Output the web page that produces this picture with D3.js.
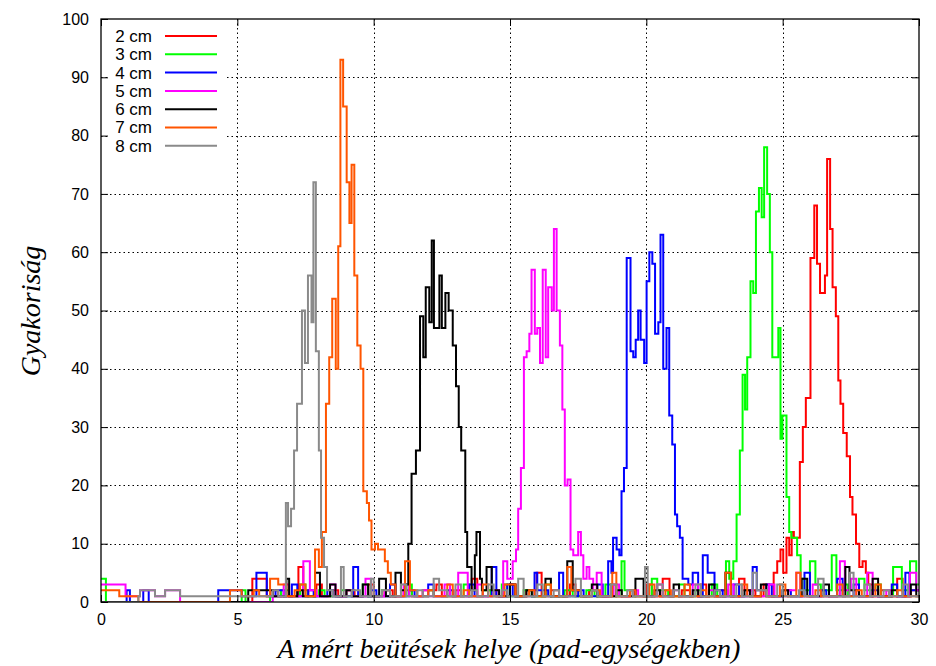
<!DOCTYPE html>
<html>
<head>
<meta charset="utf-8">
<script src="https://cdn.jsdelivr.net/npm/d3@7"></script>
<style>
  body { margin: 0; background: #fff; }
  svg { display: block; }
</style>
</head>
<body>
<div id="fig"></div>
<script>
// series names, colours in drawing order (2 cm drawn first, 8 cm last)
var names = ["2 cm", "3 cm", "4 cm", "5 cm", "6 cm", "7 cm", "8 cm"];
var colors = ["#ff0000", "#00ff00", "#0000ff", "#ff00ff", "#000000", "#ff5500", "#8a8a8a"];

var xTicks = [0, 5, 10, 15, 20, 25, 30];
var yTicks = [0, 10, 20, 30, 40, 50, 60, 70, 80, 90, 100];

// histogram steps: [position, count] — count holds until the next position
var s2cm = [[0,0],[5.55,4],[6.08,1],[6.3,2],[6.5,1],[7.24,6],[7.42,2],[7.6,1],[7.9,3],[8.1,1],[8.5,2],[8.7,1],[9.0,2],[9.3,1],[9.8,3],[10.0,1],[10.4,2],[10.7,1],[11.1,2],[11.4,1],[11.8,2],[12.3,3],[12.5,1],[13.0,2],[13.2,1],[13.6,4],[13.8,1],[14.2,2],[14.5,1],[15.0,3],[15.2,1],[15.6,2],[15.98,5],[16.16,1],[16.5,2],[16.8,1],[17.2,3],[17.4,1],[17.9,2],[18.2,1],[18.7,3],[18.9,1],[19.4,2],[19.6,1],[20.0,3],[20.2,1],[20.6,4],[20.85,1],[21.3,2],[21.6,1],[22.0,3],[22.2,1],[22.7,2],[23.0,1],[23.4,4],[23.6,2],[24.0,1],[24.3,3],[24.5,1],[24.67,5],[24.8,7],[24.92,9],[25.02,5],[25.14,11],[25.24,8],[25.33,12],[25.41,11],[25.63,24],[25.74,30],[25.85,35],[26.02,59],[26.16,68],[26.26,58],[26.37,53],[26.55,56],[26.63,76],[26.74,64],[26.83,54],[26.95,49],[27.04,38],[27.12,34],[27.22,29],[27.35,25],[27.47,18],[27.56,15],[27.69,10],[27.81,6],[27.93,7],[28.05,5],[28.14,3],[28.3,1],[28.6,2],[28.9,1],[29.2,4],[29.4,1],[29.7,2],[30,2]];

var s3cm = [[0,4],[0.18,0],[5.16,2],[5.3,0],[6.2,1],[6.6,2],[6.9,1],[7.3,3],[7.5,1],[8.0,2],[8.2,1],[8.8,2],[9.0,1],[9.6,3],[9.8,1],[10.3,2],[10.6,1],[11.2,3],[11.4,1],[12.0,2],[12.2,1],[13.3,3],[13.5,1],[14.0,2],[14.3,1],[14.7,3],[14.9,1],[15.5,2],[15.8,1],[16.3,3],[16.5,1],[17.0,2],[17.3,1],[17.8,2],[18.1,1],[18.5,3],[18.7,1],[19.09,7],[19.2,2],[19.5,1],[20.2,4],[20.4,2],[20.8,1],[21.2,3],[21.4,1],[21.8,2],[22.0,1],[22.4,3],[22.6,1],[22.92,7],[23.04,4],[23.19,7],[23.31,15],[23.43,26],[23.53,39],[23.62,33],[23.70,42],[23.82,55],[23.92,53],[24.02,67],[24.13,71],[24.23,66],[24.32,78],[24.43,70],[24.53,60],[24.62,42],[24.84,47],[24.92,28],[24.99,32],[25.14,18],[25.24,12],[25.32,11],[25.53,8],[25.66,4],[25.8,2],[26.0,7],[26.2,3],[26.4,2],[26.8,8],[26.97,2],[27.2,3],[27.4,1],[27.8,4],[28.0,2],[28.4,3],[28.6,1],[29.05,6],[29.37,2],[29.67,7],[29.9,3],[30,3]];

var s4cm = [[0,0],[0.94,2],[1.06,0],[1.55,2],[1.75,0],[4.3,2],[5.16,1],[5.7,5],[6.08,1],[6.4,2],[6.7,1],[7.0,3],[7.2,1],[7.6,2],[7.8,1],[8.3,2],[8.5,1],[9.25,6],[9.43,1],[9.9,2],[10.1,1],[10.6,3],[10.8,1],[11.3,2],[11.5,1],[12.0,3],[12.2,1],[12.7,2],[12.9,1],[13.5,3],[13.7,1],[14.33,6],[14.5,1],[14.9,3],[15.1,1],[15.9,5],[16.0,2],[16.4,1],[16.8,5],[16.95,1],[17.5,2],[17.7,1],[18.2,3],[18.4,1],[18.60,7],[18.72,5],[18.78,11],[18.91,9],[19.01,8],[19.09,19],[19.18,23],[19.28,59],[19.42,43],[19.52,42],[19.61,45],[19.70,50],[19.79,45],[19.92,41],[20.01,55],[20.11,60],[20.22,58],[20.32,46],[20.44,48],[20.52,63],[20.62,40],[20.74,47],[20.84,32],[20.95,27],[21.05,15],[21.13,13],[21.23,11],[21.33,4],[21.54,3],[21.7,5],[21.9,1],[22.07,8],[22.25,5],[22.5,2],[22.8,1],[23.2,3],[23.4,1],[23.9,6],[24.05,2],[24.4,3],[24.6,1],[25.0,2],[25.3,1],[25.8,5],[26.0,1],[26.4,2],[26.6,1],[27.0,4],[27.2,1],[27.6,3],[27.8,1],[28.3,2],[28.5,1],[29.0,3],[29.2,1],[29.5,5],[29.65,2],[30,2]];

var s5cm = [[0,3],[0.9,1],[1.43,2],[1.98,1],[2.35,2],[2.9,0],[6.3,1],[6.7,3],[6.9,1],[7.42,7],[7.66,2],[7.9,1],[8.4,3],[8.6,1],[9.0,2],[9.2,1],[9.7,4],[9.9,1],[10.4,2],[10.6,1],[11.1,3],[11.3,1],[11.8,2],[12.0,1],[12.6,3],[12.8,1],[13.1,5],[13.45,1],[13.8,3],[14.0,1],[14.4,2],[14.6,1],[14.75,7],[14.9,4],[15.10,7],[15.22,9],[15.30,16],[15.40,23],[15.51,42],[15.61,43],[15.71,46],[15.79,57],[15.91,46],[16.00,47],[16.10,41],[16.20,57],[16.31,42],[16.40,54],[16.53,50],[16.61,64],[16.71,50],[16.83,44],[16.92,33],[17.01,20],[17.11,21],[17.22,9],[17.32,8],[17.50,12],[17.60,8],[17.69,4],[17.81,6],[17.91,4],[18.05,2],[18.18,5],[18.36,1],[18.8,3],[19.0,1],[19.5,2],[19.7,1],[20.4,3],[20.6,1],[21.0,2],[21.2,1],[21.7,3],[21.9,1],[22.3,2],[22.5,1],[23.0,3],[23.2,1],[23.7,2],[23.9,1],[24.5,3],[24.7,1],[25.2,2],[25.5,5],[25.65,1],[26.1,3],[26.3,1],[27.1,7],[27.28,2],[27.5,4],[27.7,1],[28.1,5],[28.3,1],[28.8,2],[29.0,1],[29.67,5],[29.9,2],[30,2]];

var s6cm = [[0,0],[5.4,2],[6.3,1],[6.8,4],[6.9,1],[7.2,2],[7.4,1],[7.85,5],[8.03,1],[8.4,3],[8.6,1],[9.0,2],[9.2,1],[9.6,3],[9.8,1],[10.2,4],[10.45,1],[10.8,5],[11.0,2],[11.15,3],[11.27,10],[11.39,22],[11.55,26],[11.70,49],[11.82,42],[11.91,54],[12.04,48],[12.13,62],[12.21,47],[12.41,56],[12.50,47],[12.63,53],[12.75,50],[12.90,44],[13.02,37],[13.12,30],[13.21,26],[13.36,12],[13.43,6],[13.59,2],[13.71,8],[13.77,12],[13.90,4],[13.97,2],[14.14,6],[14.33,2],[14.6,1],[15.0,3],[15.2,1],[15.6,2],[15.8,1],[16.3,4],[16.5,1],[17.1,7],[17.3,2],[17.6,1],[18.0,3],[18.2,1],[18.9,2],[19.1,1],[19.6,4],[19.9,1],[20.3,2],[20.5,1],[21.0,3],[21.2,1],[21.7,2],[21.9,1],[22.3,3],[22.5,1],[22.9,5],[23.1,1],[23.6,2],[23.8,1],[24.2,3],[24.4,1],[25.0,2],[25.2,1],[25.7,4],[25.9,1],[26.5,3],[26.7,1],[27.3,6],[27.45,2],[27.8,1],[28.3,4],[28.5,1],[29.0,2],[29.2,1],[29.7,3],[29.9,1],[30,1]];

var s7cm = [[0,2],[0.67,1],[1.37,0],[4.73,2],[5.16,1],[5.6,2],[5.8,1],[6.2,4],[6.5,3],[6.8,1],[7.1,2],[7.3,3],[7.5,1],[7.85,9],[7.99,6],[8.10,12],[8.25,34],[8.37,42],[8.48,52],[8.61,40],[8.70,61],[8.78,93],[8.88,85],[9.01,72],[9.11,65],[9.19,75],[9.29,56],[9.40,44],[9.52,40],[9.62,19],[9.75,17],[9.83,14],[9.92,9],[10.05,10],[10.16,9],[10.41,7],[10.52,5],[10.63,3],[10.8,1],[11.15,7],[11.33,2],[11.6,1],[12.0,2],[12.2,1],[12.7,3],[12.9,1],[13.3,2],[13.5,1],[14.0,3],[14.2,1],[14.8,3],[15.2,1],[15.7,2],[15.9,1],[16.3,3],[16.5,1],[17.1,6],[17.25,2],[17.6,1],[18.0,2],[18.3,1],[18.75,5],[18.9,1],[19.4,2],[19.6,1],[20.1,3],[20.3,1],[20.7,2],[20.9,1],[21.4,3],[21.6,1],[22.0,2],[22.2,1],[22.9,5],[23.1,1],[23.5,3],[23.7,1],[24.2,2],[24.4,1],[24.9,3],[25.1,1],[25.5,5],[25.65,1],[26.2,2],[26.4,1],[27.0,3],[27.2,1],[27.7,2],[27.9,1],[28.4,3],[28.6,1],[29.2,2],[29.4,1],[30,1]];

var s8cm = [[0,0],[1.37,1],[1.43,2],[1.98,1],[2.35,2],[2.9,1],[6.3,2],[6.5,1],[6.78,17],[6.86,13],[6.97,16],[7.08,26],[7.19,34],[7.37,50],[7.48,41],[7.59,56],[7.72,48],[7.79,72],[7.88,43],[7.99,26],[8.07,11],[8.18,6],[8.29,2],[8.5,1],[8.8,6],[8.9,1],[9.2,2],[9.5,1],[9.9,4],[10.0,1],[10.3,2],[10.6,1],[11.0,3],[11.2,1],[11.6,2],[11.8,1],[12.2,4],[12.4,2],[12.7,1],[13.0,3],[13.2,1],[13.6,2],[13.8,1],[14.2,3],[14.4,1],[14.7,2],[14.9,1],[15.3,4],[15.5,1],[16.0,3],[16.2,1],[16.6,2],[16.8,1],[17.4,4],[17.6,1],[18.0,2],[18.2,1],[18.7,3],[18.9,1],[19.3,2],[19.5,1],[19.95,6],[20.05,1],[20.4,3],[20.6,1],[21.0,2],[21.2,1],[21.8,3],[22.0,1],[22.5,2],[22.7,1],[23.3,3],[23.5,1],[23.9,5],[24.05,2],[24.4,1],[24.8,3],[25.0,1],[25.6,2],[25.8,1],[26.3,4],[26.5,1],[27.45,5],[27.6,1],[28.0,3],[28.2,1],[28.7,2],[28.9,1],[29.4,3],[29.6,1],[30,1]];

var series = [s2cm, s3cm, s4cm, s5cm, s6cm, s7cm, s8cm];

var W = 936, H = 666;
var plotL = 101, plotR = 919, plotT = 19, plotB = 602;

var svg = d3.select("#fig").append("svg")
    .attr("width", W)
    .attr("height", H);

var x = d3.scaleLinear().domain([0, 30]).range([plotL, plotR]);
var y = d3.scaleLinear().domain([0, 100]).range([plotB, plotT]);

svg.append("defs").append("clipPath").attr("id", "clip")
  .append("rect")
    .attr("x", plotL).attr("y", plotT)
    .attr("width", plotR - plotL).attr("height", plotB - plotT);

// dotted grid
var grid = svg.append("g").attr("class", "grid");
grid.selectAll("line.gx")
  .data(xTicks.slice(1, -1))
  .enter().append("line")
    .attr("x1", function(d) { return Math.round(x(d)) + 0.5; })
    .attr("x2", function(d) { return Math.round(x(d)) + 0.5; })
    .attr("y1", plotT).attr("y2", plotB);
grid.selectAll("line.gy")
  .data(yTicks.slice(1, -1))
  .enter().append("line")
    .attr("x1", plotL).attr("x2", plotR)
    .attr("y1", function(d) { return Math.round(y(d)) + 0.5; })
    .attr("y2", function(d) { return Math.round(y(d)) + 0.5; });
grid.selectAll("line")
    .attr("stroke", "#000")
    .attr("stroke-width", 1)
    .attr("stroke-dasharray", "1.5,3");

// histograms
var line = d3.line()
    .x(function(d) { return x(d[0]); })
    .y(function(d) { return y(d[1]); })
    .curve(d3.curveStepAfter);

svg.append("g").attr("clip-path", "url(#clip)")
  .selectAll("path")
  .data(series)
  .enter().append("path")
    .attr("d", line)
    .attr("fill", "none")
    .attr("stroke", function(d, i) { return colors[i]; })
    .attr("stroke-width", 2)
    .attr("stroke-linejoin", "miter");

// opaque key box (hides the grid behind the legend)
svg.append("rect")
    .attr("x", 108).attr("y", 21)
    .attr("width", 118).attr("height", 136)
    .attr("fill", "#fff");

// axes with inward ticks, mirrored on top / right
var fontTick = "'Liberation Sans', Arial, sans-serif";

svg.append("g")
    .attr("transform", "translate(0," + plotB + ")")
    .call(d3.axisBottom(x).tickValues(xTicks).tickSize(-7).tickPadding(12));
svg.append("g")
    .attr("transform", "translate(" + plotL + ",0)")
    .call(d3.axisLeft(y).tickValues(yTicks).tickSize(-7).tickPadding(12));
svg.append("g")
    .attr("transform", "translate(0," + plotT + ")")
    .call(d3.axisTop(x).tickValues(xTicks).tickSize(-7).tickFormat(""));
svg.append("g")
    .attr("transform", "translate(" + plotR + ",0)")
    .call(d3.axisRight(y).tickValues(yTicks).tickSize(-7).tickFormat(""));

svg.selectAll(".domain").remove();
svg.selectAll(".tick line").attr("stroke", "#000").attr("stroke-width", 1);
svg.selectAll(".tick text")
    .attr("font-family", fontTick)
    .attr("font-size", 16)
    .attr("fill", "#000");

// frame
svg.append("rect")
    .attr("x", plotL).attr("y", plotT)
    .attr("width", plotR - plotL).attr("height", plotB - plotT)
    .attr("fill", "none")
    .attr("stroke", "#000")
    .attr("stroke-width", 1.3);

// legend
var legend = svg.append("g");
names.forEach(function(n, i) {
  var ly = 36 + i * 18.3;
  legend.append("text")
      .attr("x", 152).attr("y", ly)
      .attr("dy", "0.35em")
      .attr("text-anchor", "end")
      .attr("font-family", fontTick)
      .attr("font-size", 17)
      .text(n);
  legend.append("line")
      .attr("x1", 165).attr("x2", 217)
      .attr("y1", ly).attr("y2", ly)
      .attr("stroke", colors[i])
      .attr("stroke-width", 2);
});

// axis titles
var fontTitle = "'Liberation Serif', 'Times New Roman', serif";
svg.append("text")
    .attr("x", 509).attr("y", 658)
    .attr("text-anchor", "middle")
    .attr("font-family", fontTitle)
    .attr("font-style", "italic")
    .attr("font-size", 28)
    .text("A mért beütések helye (pad-egységekben)");
svg.append("text")
    .attr("transform", "translate(40,311) rotate(-90)")
    .attr("text-anchor", "middle")
    .attr("font-family", fontTitle)
    .attr("font-style", "italic")
    .attr("font-size", 28)
    .text("Gyakoriság");
</script>
</body>
</html>
